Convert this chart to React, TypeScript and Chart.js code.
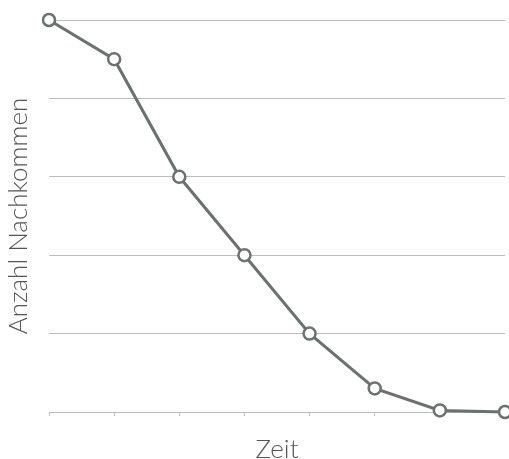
import React, { useEffect, useRef } from "react";
import { Chart, registerables } from "chart.js";

Chart.register(...registerables);

const categories = ["1", "2", "3", "4", "5", "6", "7", "8"];
const offspring = [5, 4.5, 3, 2, 1, 0.3, 0.02, 0];
const yTicks = [0, 1, 2, 3, 4, 5];
const xTitle = "Zeit";
const yTitle = "Anzahl Nachkommen";

export default function App() {
  const ref = useRef<HTMLCanvasElement | null>(null);

  useEffect(() => {
    document.body.style.margin = "0";
    const canvas = ref.current;
    if (!canvas) return;
    const lineColor = "#6b716e";
    const gridColor = "#bcbcbc";
    const chart = new Chart(canvas, {
      type: "line",
      data: {
        labels: categories,
        datasets: [
          {
            data: offspring,
            borderColor: lineColor,
            borderWidth: 3,
            backgroundColor: "#ffffff",
            pointBackgroundColor: "#ffffff",
            pointBorderColor: lineColor,
            pointBorderWidth: 2.5,
            pointRadius: 6,
            tension: 0,
            clip: false,
          },
        ],
      },
      options: {
        responsive: false,
        animation: false,
        layout: { autoPadding: false, padding: { top: 20, right: 4, left: 0, bottom: 0 } },
        plugins: { legend: { display: false }, tooltip: { enabled: false } },
        scales: {
          x: {
            type: "category",
            offset: false,
            ticks: { display: false },
            grid: {
              drawOnChartArea: false,
              drawTicks: true,
              tickLength: 4,
              color: gridColor,
            },
            border: { display: true, color: gridColor, width: 1 },
            title: {
              display: true,
              text: xTitle,
              color: "#555555",
              font: { family: "Lato", size: 26, weight: "300", lineHeight: 1 },
              padding: { top: 0, bottom: -4 },
            },
            afterFit: (s: any) => {
              s.height = 47;
            },
          },
          y: {
            min: 0,
            max: 5,
            afterBuildTicks: (s: any) => {
              s.ticks = yTicks.map((v) => ({ value: v }));
            },
            ticks: { display: false },
            grid: { drawTicks: false, color: gridColor, lineWidth: 1 },
            border: { display: false },
            title: {
              display: true,
              text: yTitle,
              color: "#555555",
              font: { family: "Lato", size: 26, weight: "300", lineHeight: 1 },
              padding: { top: 6, bottom: 0 },
            },
            afterFit: (s: any) => {
              s.width = 49;
            },
          },
        },
      },
    });
    return () => chart.destroy();
  }, []);

  return (
    <div style={{ position: "fixed", left: 0, top: 0, width: 509, height: 459 }}>
      <canvas ref={ref} width={509} height={459} style={{ display: "block" }} />
    </div>
  );
}
